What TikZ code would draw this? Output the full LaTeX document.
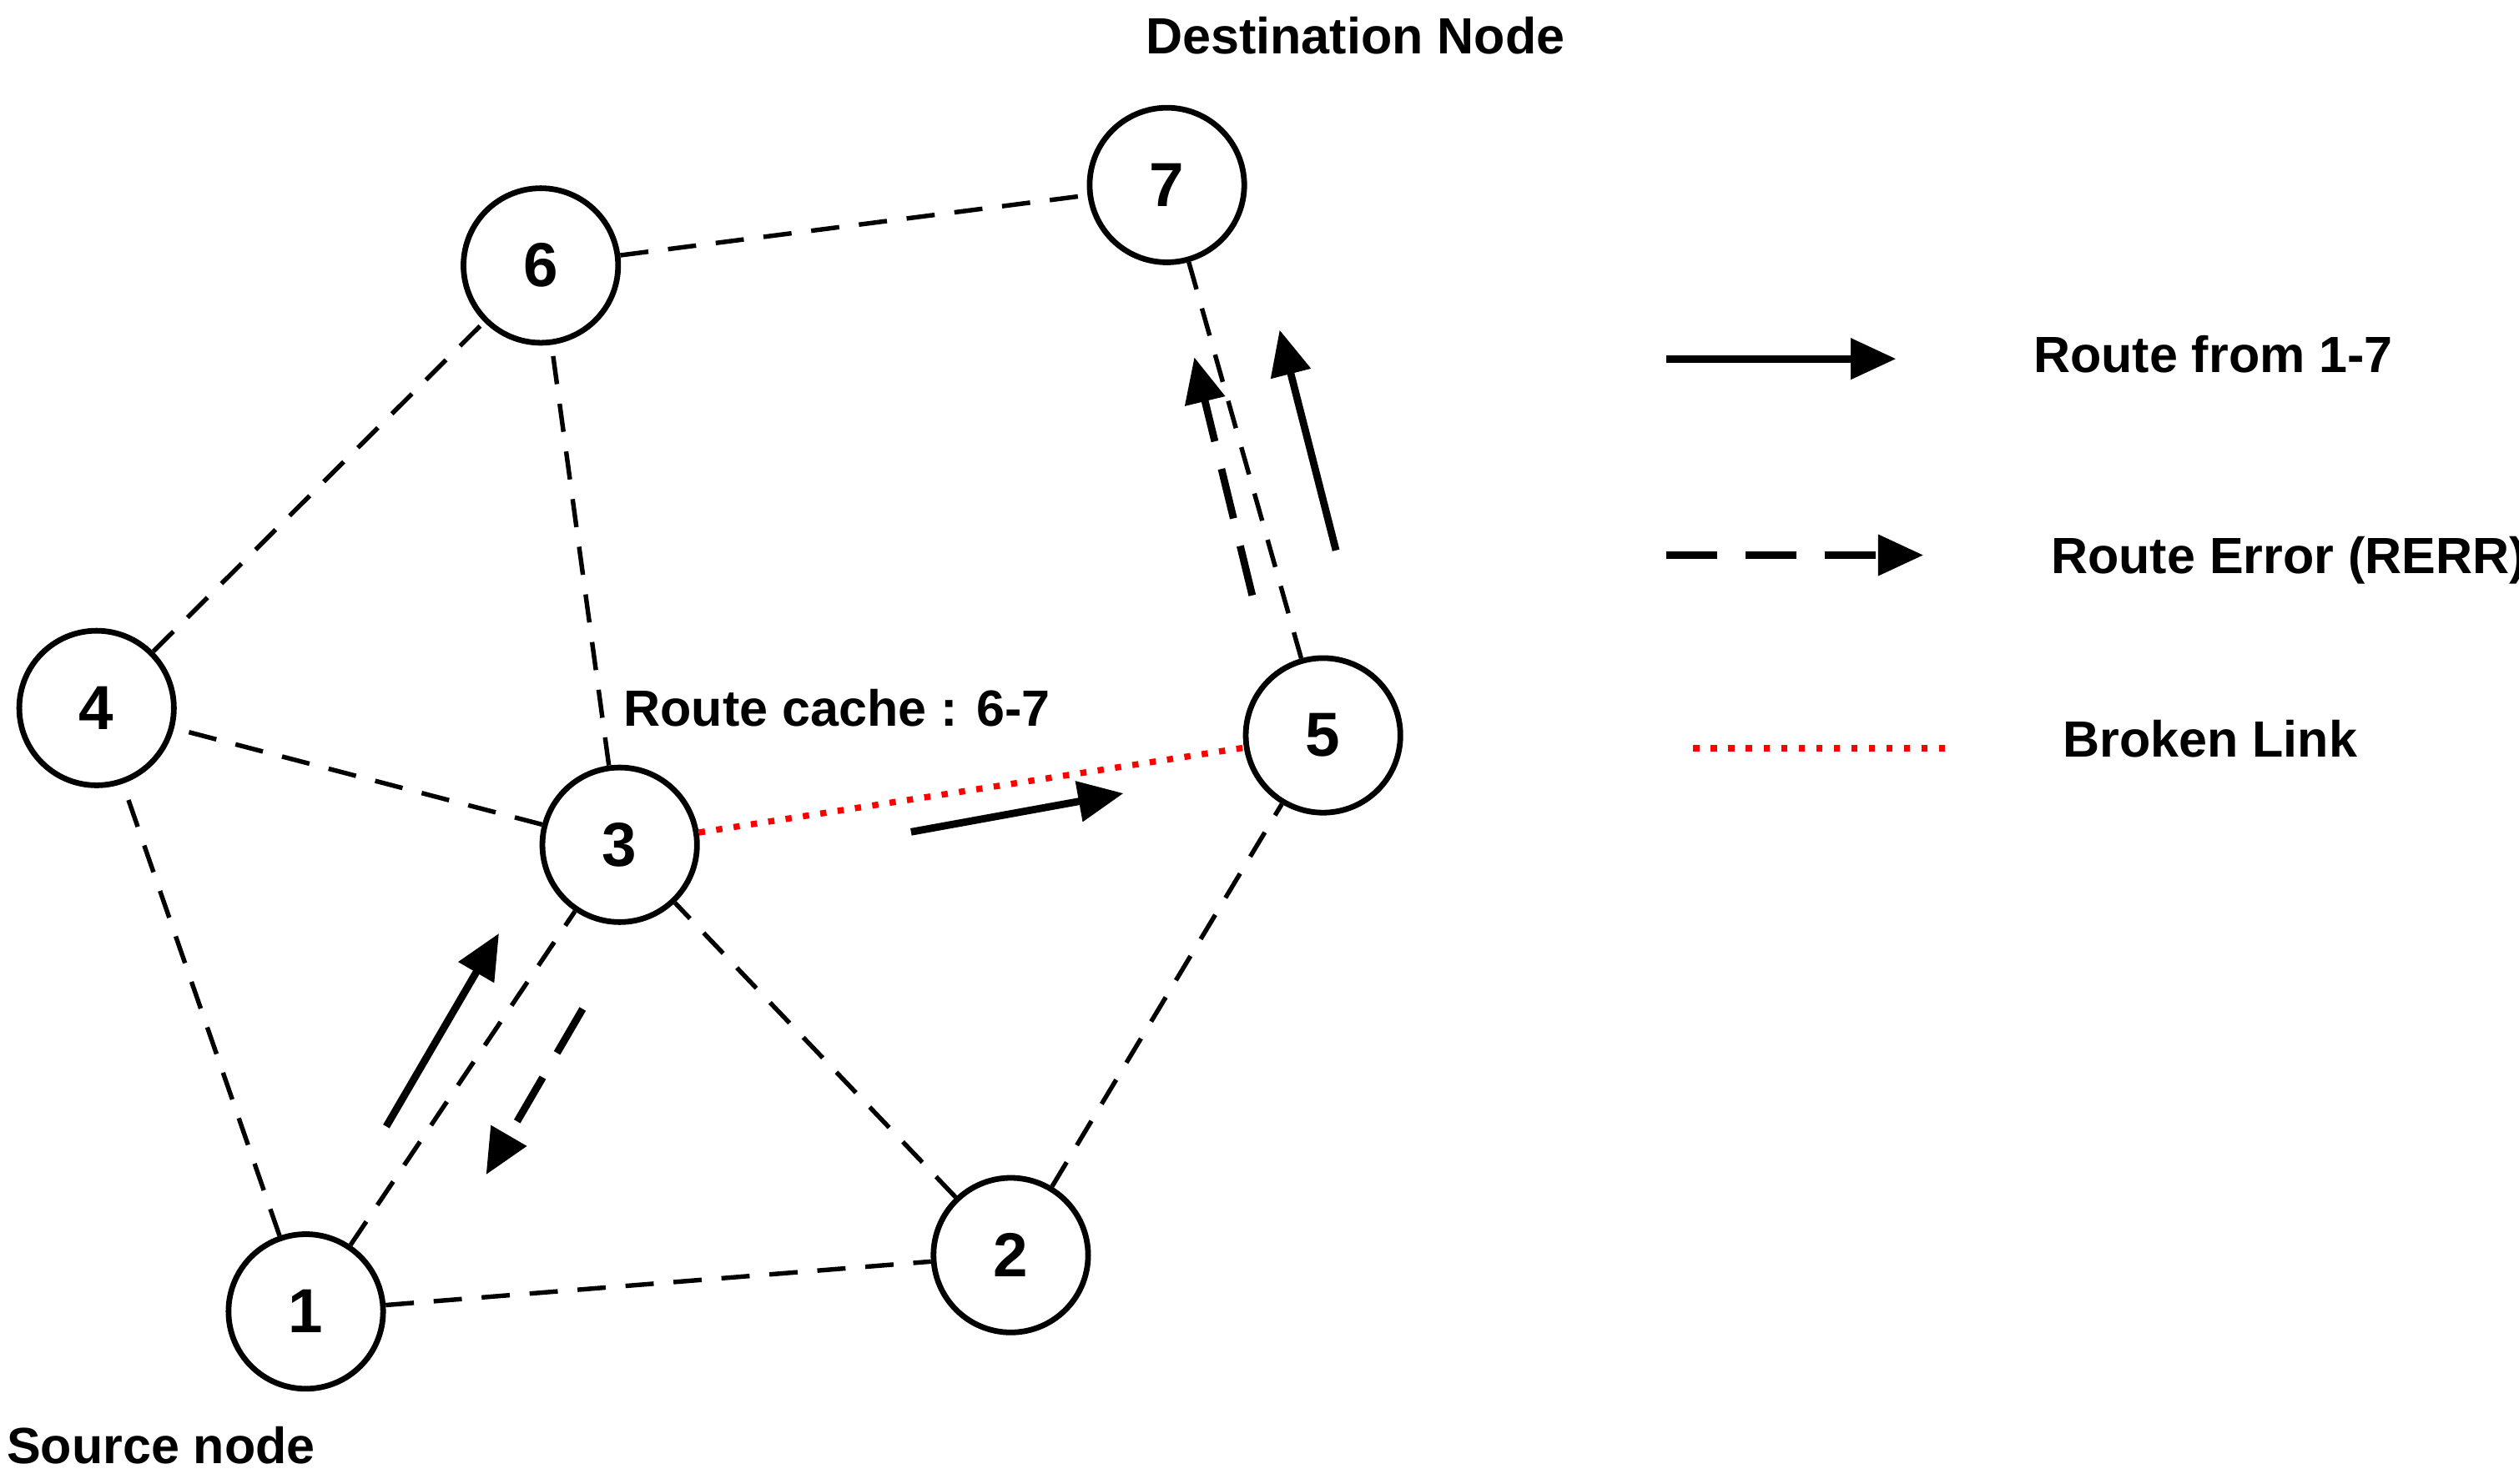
\documentclass[tikz,border=0pt]{standalone}
\usepackage{fontspec}
\setmainfont{Liberation Sans}
\usetikzlibrary{arrows.meta}
\begin{document}
\begin{tikzpicture}[x=0.01cm,y=-0.01cm,
  nd/.style={circle,draw,line width=1pt,minimum size=0.96cm,inner sep=0pt,font=\bfseries\fontsize{11}{13}\selectfont},
  lk/.style={dash pattern=on 5pt off 3.5pt,line width=0.8pt},
  br/.style={red,dotted,line width=1.1pt},
  sa/.style={line width=1.3pt,-{Triangle[length=8pt,width=7pt]}},
  da/.style={sa,dash pattern=on 9pt off 5pt},
  lb/.style={font=\bfseries\fontsize{9}{11}\selectfont}]
\useasboundingbox (0,0) rectangle (1565,922);
\node[nd] (n1) at (190,815) {1};
\node[nd] (n2) at (628,780) {2};
\node[nd] (n3) at (385,525) {3};
\node[nd] (n4) at (60,440) {4};
\node[nd] (n5) at (822,457) {5};
\node[nd] (n6) at (336,165) {6};
\node[nd] (n7) at (725,115) {7};
\draw[lk] (n1)--(n4); \draw[lk] (n1)--(n3); \draw[lk] (n1)--(n2);
\draw[lk] (n2)--(n3); \draw[lk] (n2)--(n5); \draw[lk] (n3)--(n4);
\draw[lk] (n3)--(n6); \draw[lk] (n4)--(n6); \draw[lk] (n6)--(n7);
\draw[lk] (n7)--(n5);
\draw[br] (n3)--(n5);
\coordinate (a1) at (240,700); \coordinate (a2) at (310,580);
\coordinate (b1) at (362,627); \coordinate (b2) at (302,730);
\coordinate (c1) at (566,517); \coordinate (c2) at (698,493);
\coordinate (d1) at (778,370); \coordinate (d2) at (742,222);
\coordinate (e1) at (830,342); \coordinate (e2) at (795,205);
\draw[sa] (a1)--(a2); \draw[da] (b1)--(b2); \draw[sa] (c1)--(c2);
\draw[da] (d1)--(d2); \draw[sa] (e1)--(e2);
\coordinate (l1) at (1035,223); \coordinate (l2) at (1178,223);
\coordinate (m1) at (1035,345); \coordinate (m2) at (1195,345);
\coordinate (r1) at (1052,465); \coordinate (r2) at (1215,465);
\draw[sa] (l1)--(l2); \draw[da] (m1)--(m2); \draw[br] (r1)--(r2);
\node[lb] (t1) at (1375,220) {Route from 1-7};
\node[lb] (t2) at (1422,348) {Route Error (RERR)};
\node[lb] (t3) at (1373,459) {Broken Link};
\node[lb] (t4) at (520,440) {Route cache : 6-7};
\node[lb] (t5) at (842,22) {Destination Node};
\node[lb] (t6) at (100,898) {Source node};
\end{tikzpicture}
\end{document}
